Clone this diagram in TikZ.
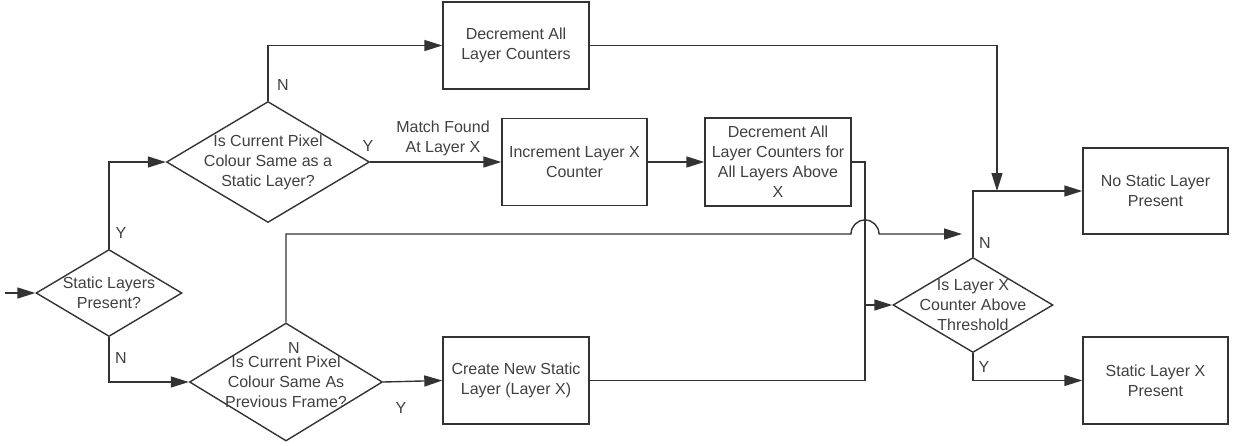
\documentclass[tikz,border=0pt]{standalone}
\usepackage{fontspec}
\setmainfont{Liberation Sans}
\usetikzlibrary{shapes.geometric,arrows.meta}

\begin{document}
\begin{tikzpicture}[x=1pt,y=-1pt,
  line width=1.4pt, draw=black!80,
  >={Triangle[length=18pt,width=11pt]},
  every node/.style={font=\fontsize{16}{20}\selectfont, text=black!75},
  every label/.style={align=center},
  blk/.style={draw, rectangle, minimum width=146pt, minimum height=87pt, align=center, inner sep=0pt},
  dec/.style={draw, diamond, inner sep=0pt, text width=0pt}]
 \useasboundingbox (0,0) rectangle (1235,445);

 % decisions
 \node [dec, minimum width=146pt, minimum height=87pt, label=center:{Static Layers\\Present?}] (d1) at (109,293) {};
 \node [dec, minimum width=203pt, minimum height=121pt, label=center:{Is Current Pixel\\Colour Same as a\\Static Layer?}] (d2) at (268,162) {};
 \node [dec, minimum width=193pt, minimum height=118pt, label=center:{Is Current Pixel\\Colour Same As\\Previous Frame?}] (d3) at (286,382) {};
 \node [dec, minimum width=160pt, minimum height=95pt, label=center:{Is Layer X\\Counter Above\\Threshold}] (d4) at (973,305) {};

 % actions
 \node [blk] (b1) at (516,45.5) {Decrement All\\Layer Counters};
 \node [blk, minimum width=145pt] (b2) at (574.5,162) {Increment Layer X\\Counter};
 \node [blk, minimum height=88pt] (b3) at (778,162) {Decrement All\\Layer Counters for\\All Layers Above\\X};
 \node [blk] (b4) at (516,380.5) {Create New Static\\Layer (Layer X)};
 \node [blk, minimum width=145pt, minimum height=86pt] (b5) at (1155.5,191) {No Static Layer\\Present};
 \node [blk, minimum width=145pt] (b6) at (1155.5,380.5) {Static Layer X\\Present};

 \coordinate (start) at (5,293);
 \coordinate (bus) at (865,305);
 \coordinate (merge) at (997,191);
 \coordinate (hop) at (851,234);
 \coordinate (nin) at (962,234);

 \draw[->] (start) -- (d1.west);
 \draw[->] (d1.north) |- (d2.west);
 \draw[->] (d1.south) |- (d3.west);
 \draw[->] (d2.north) |- (b1.west);
 \draw[->] (d2.east) -- (b2.west);
 \draw[->] (b2.east) -- (b3.west);
 \draw (b3.east) -| (bus |- b4.east) -- (b4.east);
 \draw[->] (bus) -- (d4.west);
 \draw[->] (d3.east) -- (b4.west);
 \draw[->] (d3.north) |- (hop) arc[start angle=180,end angle=360,radius=14] -- (nin);
 \draw[->] (b1.east) -| (merge);
 \draw[->] (d4.north) |- (b5.west);
 \draw[->] (d4.south) |- (b6.west);

 % branch labels
 \node at (121,233) {Y};
 \node at (121,358) {N};
 \node at (283,85) {N};
 \node at (368,146) {Y};
 \node [align=center] at (443,138) {Match Found\\At Layer X};
 \node at (294,348) {N};
 \node at (401,408) {Y};
 \node at (985,243) {N};
 \node at (984,367) {Y};
\end{tikzpicture}
\end{document}
